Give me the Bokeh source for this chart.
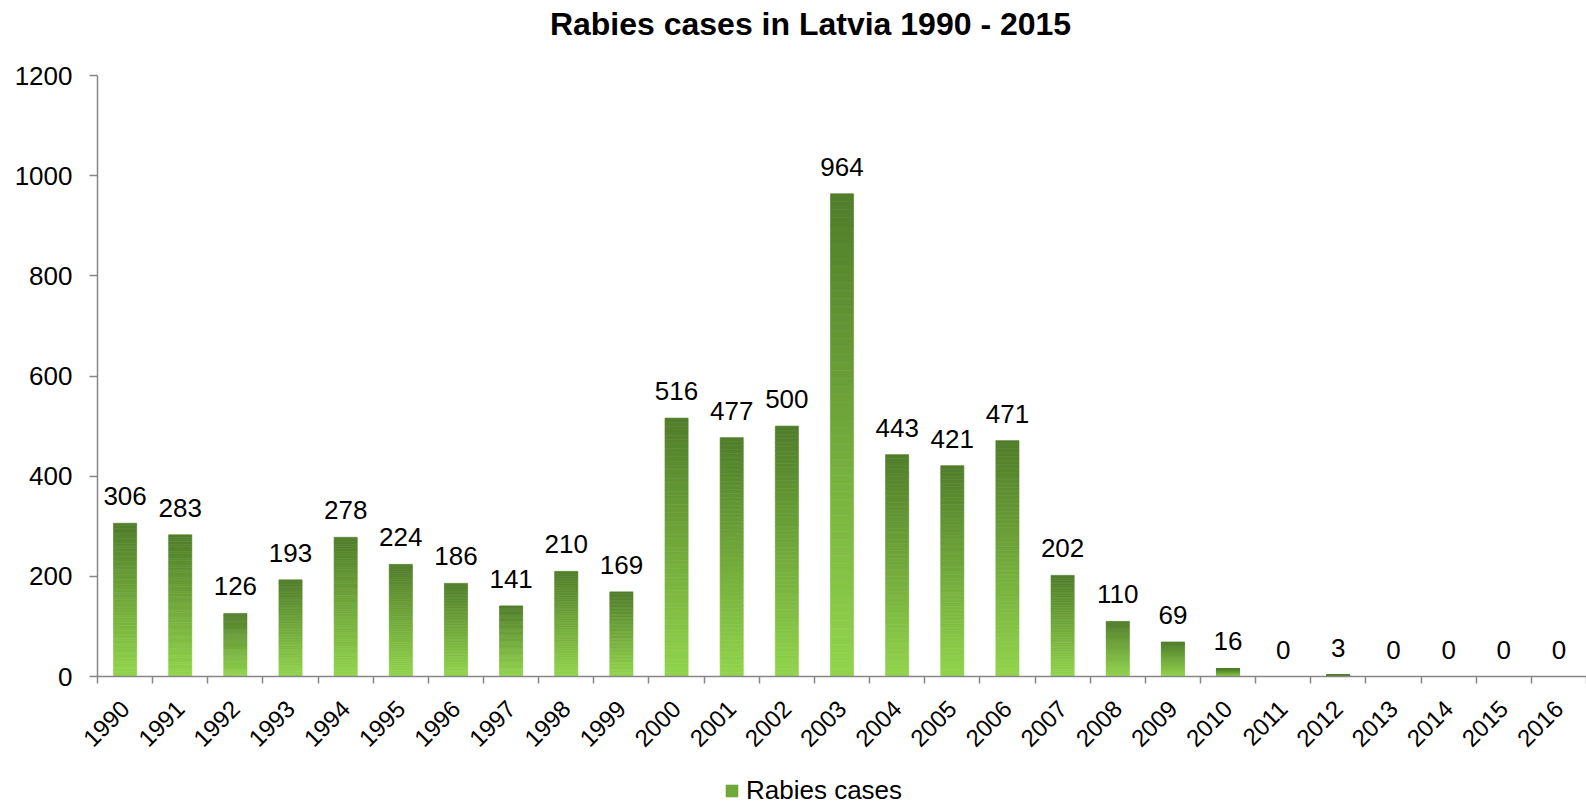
import math
from bokeh.plotting import figure
from bokeh.models import (Range1d, FixedTicker, Label, Legend, LegendItem,
                          ColumnDataSource, LinearAxis)
from bokeh.core.properties import value
from bokeh.embed import file_html
from bokeh.resources import INLINE

# ---- data ----
years = [str(y) for y in range(1990, 2017)]
cases = [306, 283, 126, 193, 278, 224, 186, 141, 210, 169, 516, 477, 500, 964,
         443, 421, 471, 202, 110, 69, 16, 0, 3, 0, 0, 0, 0]
y_ticks = [0, 200, 400, 600, 800, 1000, 1200]
title_text = "Rabies cases in Latvia 1990 - 2015"
series_name = "Rabies cases"

FONT = "Liberation Sans"
GRAY = "#868686"
TOP_RGB = (80, 125, 42)
BOT_RGB = (146, 213, 76)

# ---- layout constants (pixels) ----
W, H = 1586, 806
AX_LEFT = 97        # y-axis position
Y0_PX, YMAX_PX = 676, 75
n = len(years)
ymax = y_ticks[-1]
unit_x = (W - AX_LEFT) / n
unit_y = (Y0_PX - YMAX_PX) / ymax

p = figure(width=W, height=H, output_backend="svg", toolbar_location=None,
           x_range=Range1d(-AX_LEFT / unit_x, n),
           y_range=Range1d(-(H - Y0_PX) / unit_y, ymax + YMAX_PX / unit_y),
           min_border=0, x_axis_type=None, y_axis_type=None)
p.outline_line_color = None
p.background_fill_color = "white"
p.border_fill_color = "white"
p.xgrid.visible = False

centers = [i + 0.5 for i in range(n)]

# grid lines
p.ygrid.visible = True
p.ygrid.ticker = FixedTicker(ticks=y_ticks)
p.ygrid.grid_line_color = GRAY
p.ygrid.grid_line_width = 1.25
p.ygrid.bounds = (0, ymax)
p.ygrid.cross_bounds = (0, n)

# gradient bars: each bar split into slices, colour from light (bottom) to dark (top)
N = 60
xs, bots, tops, cols = [], [], [], []
for c, v in zip(centers, cases):
    for k in range(N):
        t = (k + 0.5) / N
        r = round(BOT_RGB[0] + (TOP_RGB[0] - BOT_RGB[0]) * t)
        g = round(BOT_RGB[1] + (TOP_RGB[1] - BOT_RGB[1]) * t)
        b = round(BOT_RGB[2] + (TOP_RGB[2] - BOT_RGB[2]) * t)
        xs.append(c)
        bots.append(v * k / N)
        tops.append(v * (k + 1) / N)
        cols.append("#%02x%02x%02x" % (r, g, b))
src = ColumnDataSource(dict(x=xs, bottom=bots, top=tops, color=cols))
bars = p.vbar(x="x", bottom="bottom", top="top", width=0.42, fill_color="color",
              line_color="color", line_width=0.6, source=src)

# data labels
p.text(x=centers, y=cases, text=[str(v) for v in cases], text_align="center",
       text_baseline="alphabetic", y_offset=-27, text_font=value(FONT),
       text_font_size="26px", text_color="black")

# y axis (fixed inside the frame at x=0)
ya = LinearAxis(fixed_location=0, bounds=(0, ymax))
ya.ticker = FixedTicker(ticks=y_ticks)
ya.axis_line_color = GRAY
ya.axis_line_width = 1.5
ya.major_tick_line_color = GRAY
ya.major_tick_line_width = 1.5
ya.major_tick_out = 8
ya.major_tick_in = 0
ya.minor_tick_line_color = None
ya.major_label_standoff = 17
ya.major_label_text_font = FONT
ya.major_label_text_font_size = "26px"
ya.major_label_text_color = "black"
p.add_layout(ya, "left")

# x axis (fixed inside the frame at y=0)
xa = LinearAxis(fixed_location=0, bounds=(0, n))
xa.ticker = FixedTicker(ticks=centers, minor_ticks=list(range(n + 1)))
xa.major_label_overrides = {c: y for c, y in zip(centers, years)}
xa.axis_line_color = GRAY
xa.axis_line_width = 1.5
xa.major_tick_line_color = None
xa.major_tick_out = 7
xa.major_tick_in = 0
xa.minor_tick_line_color = GRAY
xa.minor_tick_line_width = 1.5
xa.minor_tick_out = 7
xa.minor_tick_in = 0
xa.major_label_orientation = math.pi / 4
xa.major_label_standoff = 21
xa.major_label_text_font = FONT
xa.major_label_text_font_size = "24px"
xa.major_label_text_color = "black"
p.add_layout(xa, "below")

# title
p.add_layout(Label(x=(810 - AX_LEFT) / unit_x, y=(Y0_PX - 23) / unit_y,
                   text=title_text, text_align="center",
                   text_baseline="alphabetic", text_font=FONT,
                   text_font_size="32px", text_font_style="bold",
                   text_color="black"))

# legend at the bottom
legend = Legend(items=[LegendItem(label=series_name, renderers=[bars], index=N // 2)],
                location=(724, 0), orientation="horizontal",
                glyph_width=15, glyph_height=15, label_standoff=7,
                label_text_font=FONT, label_text_font_size="26px",
                label_text_color="black", padding=0, margin=0, spacing=0,
                border_line_color=None, background_fill_alpha=0)
p.add_layout(legend)

open("out.html", "w").write(file_html(p, INLINE))
